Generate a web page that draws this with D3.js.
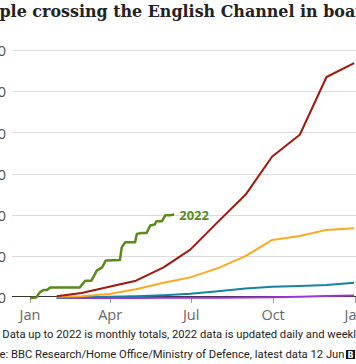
<!DOCTYPE html>
<html><head><meta charset="utf-8">
<script src="https://cdn.jsdelivr.net/npm/d3@7"></script>
<style>
html,body{margin:0;padding:0;background:#fff;overflow:hidden;}
svg{display:block;}
</style></head>
<body>
<svg id="c" width="356" height="364"></svg>
<script>
// ---- data ----
const titleText = "Number of people crossing the English Channel in boats";
const titleHidden = "Number of peo";
const noteText = "Note: Data up to 2022 is monthly totals, 2022 data is updated daily and weekly";
const noteHidden = "Note: ";
const sourceText = "Source: BBC Research/Home Office/Ministry of Defence, latest data 12 Jun";
const sourceHidden = "Sourc";
const yTicks = [0, 5000, 10000, 15000, 20000, 25000, 30000];
const xTickLabels = ["Jan", "Apr", "Jul", "Oct", "Jan"];
const xTickDates = ["2022-01-01", "2022-04-01", "2022-07-01", "2022-10-01", "2023-01-01"];
const monthEnds = ["2022-01-31","2022-02-28","2022-03-31","2022-04-30","2022-05-31","2022-06-30",
                   "2022-07-31","2022-08-31","2022-09-30","2022-10-31","2022-11-30","2022-12-31"];
const values2018 = [0, 0, 5, 10, 20, 30, 40, 60, 90, 140, 230, 299];
const values2019 = [30, 100, 160, 220, 340, 520, 830, 1160, 1375, 1470, 1590, 1843];
const values2020 = [150, 220, 490, 1070, 1860, 2506, 3625, 5085, 7056, 7540, 8272, 8466];
const values2021 = [200, 610, 1370, 2100, 3720, 5880, 9250, 12530, 17190, 19830, 26840, 28526];
const dates2022 = ["2022-01-01","2022-01-08","2022-01-12","2022-01-16","2022-01-20","2022-01-24",
  "2022-02-26","2022-03-04","2022-03-11","2022-03-17","2022-03-23","2022-03-27","2022-04-12",
  "2022-04-14","2022-04-18","2022-04-29","2022-05-01","2022-05-06","2022-05-12","2022-05-16",
  "2022-05-21","2022-05-23","2022-05-29","2022-06-02","2022-06-07","2022-06-12"];
const values2022 = [0, 70, 680, 970, 970, 1290, 1290, 2100, 2100, 3320, 3720, 4540, 4620,
  6150, 6760, 6760, 7790, 7900, 7900, 8800, 8920, 9320, 9320, 10050, 10050, 10130];
const seriesNames = ["2018", "2019", "2020", "2021"];
const seriesColors = {"2018":"#9c35d8","2019":"#1681a3","2020":"#fca823","2021":"#a0170c","2022":"#5a8a1c"};

// ---- drawing ----
const svg = d3.select("#c");
const parse = d3.timeParse("%Y-%m-%d");
const x = d3.scaleTime().domain([parse("2022-01-01"), parse("2023-01-01")]).range([30, 355]);
const y = d3.scaleLinear().domain([0, 30000]).range([298, 51]);

function measure(str, font, size, weight) {
  const t = svg.append("text").attr("font-family", font).attr("font-size", size)
    .attr("font-weight", weight || "normal").text(str);
  const w = t.node().getComputedTextLength();
  t.remove();
  return w;
}

// title
const tFont = "'DejaVu Serif', serif";
const visUpTo = "ple crossing the English Channel in boa";
const tSize = 20 * 356 / measure(visUpTo, tFont, 20, "bold");
svg.append("text").attr("font-family", tFont).attr("font-weight", "bold")
  .attr("font-size", tSize).attr("fill", "#222")
  .attr("x", -measure(titleHidden, tFont, tSize, "bold") - 0.5).attr("y", 17)
  .text(titleText);

// gridlines
const gridG = svg.append("g");
gridG.selectAll("line").data(yTicks.filter(d => d > 0)).join("line")
  .attr("x1", 12).attr("x2", 356)
  .attr("y1", d => Math.round(y(d)) - 0.5).attr("y2", d => Math.round(y(d)) - 0.5)
  .attr("stroke", "#dcdcdc").attr("stroke-width", 1);

// y labels
const sFont = "'Open Sans', Lato, sans-serif";
svg.append("g").selectAll("text").data(yTicks).join("text")
  .attr("x", 6).attr("y", d => y(d)).attr("dy", "0.35em")
  .attr("text-anchor", "end").attr("font-family", sFont).attr("font-size", 15)
  .attr("fill", "#505050").text(d => d3.format(",")(d));

// baseline
svg.append("line").attr("x1", 12).attr("x2", 356).attr("y1", 296.5).attr("y2", 296.5)
  .attr("stroke", "#333").attr("stroke-width", 1);

// x axis ticks & labels
const xt = svg.append("g");
xt.selectAll("line").data(xTickDates).join("line")
  .attr("x1", d => Math.round(x(parse(d))) + 0.5).attr("x2", d => Math.round(x(parse(d))) + 0.5)
  .attr("y1", 297).attr("y2", 303).attr("stroke", "#999").attr("stroke-width", 1);
xt.selectAll("text").data(xTickDates).join("text")
  .attr("x", d => x(parse(d))).attr("y", 320)
  .attr("text-anchor", "middle").attr("font-family", sFont).attr("font-size", 14.5)
  .attr("fill", "#666").text((d, i) => xTickLabels[i]);

// lines
const line = d3.line().x(d => x(d[0])).y(d => y(d[1]));
const allSeries = [values2018, values2019, values2020, values2021];
allSeries.forEach((vals, i) => {
  const pts = monthEnds.map((m, j) => [parse(m), vals[j]]);
  svg.append("path").datum(pts).attr("d", line).attr("fill", "none")
    .attr("stroke", seriesColors[seriesNames[i]]).attr("stroke-width", 2)
    .attr("stroke-linejoin", "round");
});
const pts22 = dates2022.map((d, j) => [parse(d), values2022[j]]);
svg.append("path").datum(pts22).attr("d", line).attr("fill", "none")
  .attr("stroke", seriesColors["2022"]).attr("stroke-width", 2.5)
  .attr("stroke-linejoin", "round");

// 2022 label
const last = pts22[pts22.length - 1];
svg.append("text").attr("x", x(last[0]) + 5).attr("y", y(last[1]) + 2).attr("dy", "0.3em")
  .attr("font-family", sFont).attr("font-weight", "bold").attr("font-size", 13)
  .attr("fill", seriesColors["2022"]).text("2022");

// footer
const fFont = "Roboto, 'Noto Sans', sans-serif";
const noteVis = "Data up to 2022 is monthly totals, 2022 data is updated daily and weekl";
const fSize = 13 * 354 / measure(noteVis, fFont, 13);
svg.append("text").attr("font-family", fFont).attr("font-size", fSize).attr("fill", "#222")
  .attr("x", -measure(noteHidden, fFont, fSize) - 0.5).attr("y", 338).text(noteText);
svg.append("text").attr("font-family", fFont).attr("font-size", fSize).attr("fill", "#222")
  .attr("x", -measure(sourceHidden, fFont, fSize) - 0.5).attr("y", 358).text(sourceText);

// BBC logo block (only first letter visible in the crop)
const logo = svg.append("g");
["B", "B", "C"].forEach((ch, i) => {
  const lx = 346 + i * 10;
  logo.append("rect").attr("x", lx).attr("y", 350).attr("width", 9).attr("height", 9).attr("fill", "#111");
  logo.append("text").attr("x", lx + 4.5).attr("y", 357.5).attr("text-anchor", "middle")
    .attr("font-family", "'DejaVu Sans', sans-serif").attr("font-weight", "bold")
    .attr("font-size", 8).attr("fill", "#fff").text(ch);
});
</script>
</body></html>
